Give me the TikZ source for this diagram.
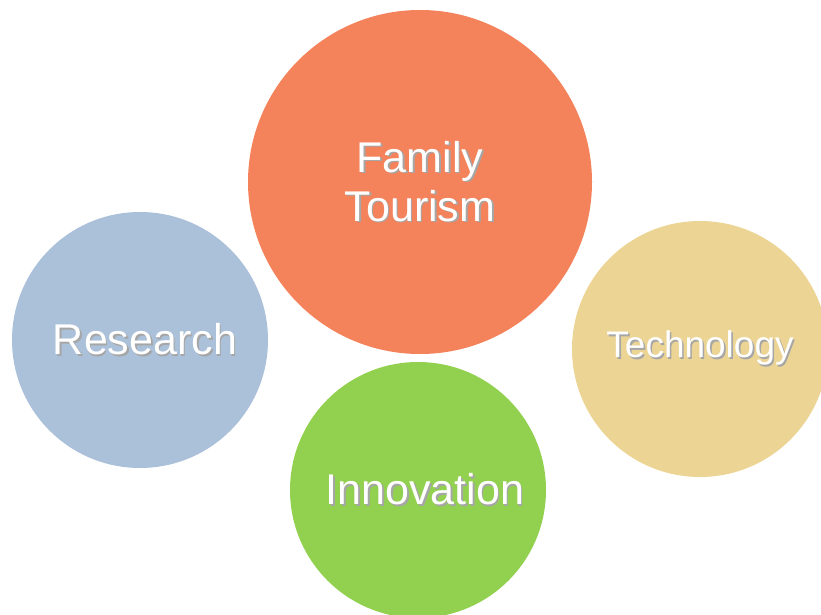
\documentclass[tikz,border=0pt]{standalone}
\usepackage{fontspec}
\setmainfont{Liberation Sans}
\usetikzlibrary{positioning}

\definecolor{tourismorange}{HTML}{F4825A}
\definecolor{researchblue}{HTML}{AAC1D9}
\definecolor{techtan}{HTML}{EBD494}
\definecolor{innogreen}{HTML}{92D050}

% white text with a soft drop shadow
\newcommand{\shtext}[1]{\makebox[0pt][l]{\hspace{1.6pt}\raisebox{-1.6pt}{\textcolor{black!35}{#1}}}#1}

\begin{document}
\begin{tikzpicture}[x=1pt, y=1pt,
    bubble/.style={circle, inner sep=0pt, text=white, align=center,
                   font=\fontsize{43pt}{49pt}\selectfont}]
  \useasboundingbox (0,0) rectangle (821,-615);
  \clip (0,0) rectangle (821,-615);

  \node (tourism) [bubble, fill=tourismorange, minimum size=344] at (420,-182)
        {\shtext{Family}\\\shtext{Tourism}};
  \node (research) [bubble, fill=researchblue, minimum size=256] at (140,-340)
        {\hspace{10pt}\shtext{Research}};
  \node (technology) [bubble, fill=techtan, minimum size=256, font=\fontsize{37pt}{40pt}\selectfont] at (700,-349)
        {\raisebox{-4pt}{\shtext{Technology}}};
  \node (innovation) [bubble, fill=innogreen, minimum size=256] at (418,-490)
        {\hspace{14pt}\shtext{Innovation}};
\end{tikzpicture}
\end{document}
